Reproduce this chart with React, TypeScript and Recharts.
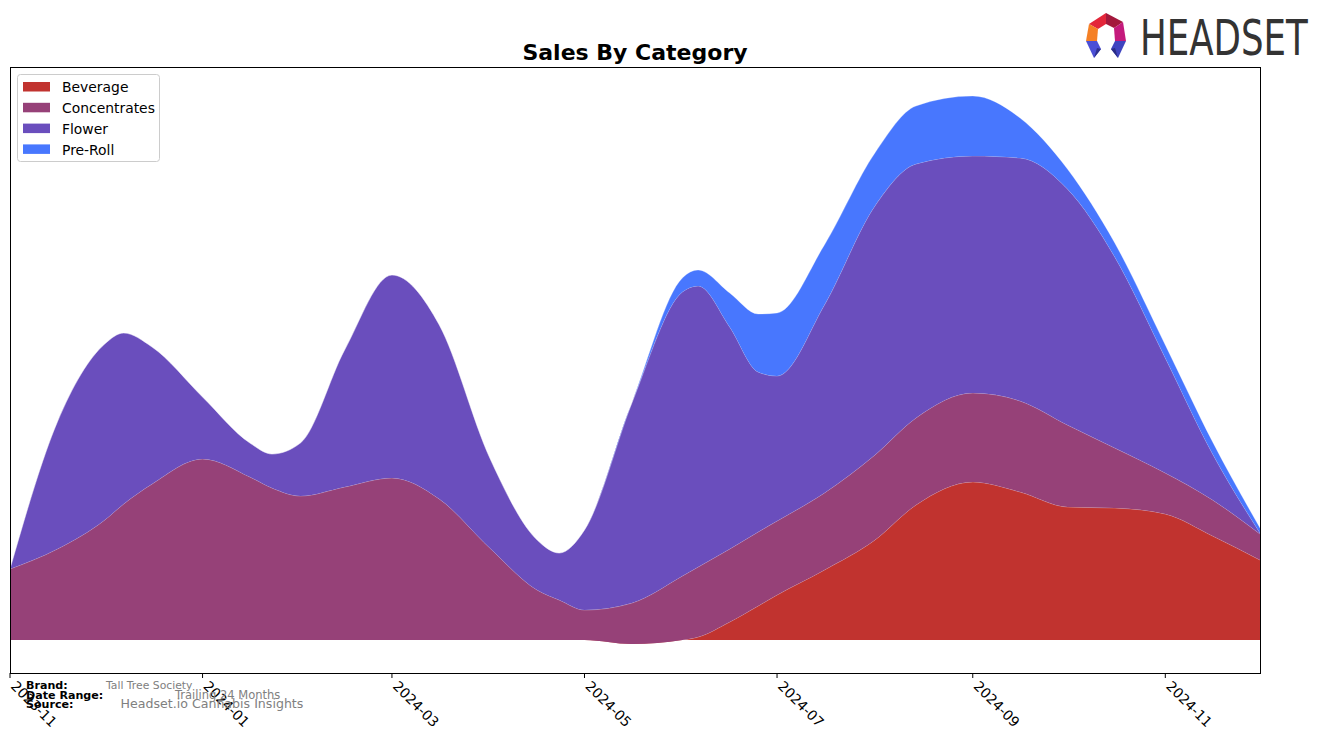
import React from 'react';
import { AreaChart, Area, XAxis, YAxis } from 'recharts';

const dates = [
  '2023-11-01', '2023-11-16', '2023-12-01', '2023-12-07', '2023-12-16',
  '2024-01-01', '2024-01-16', '2024-01-23', '2024-02-01', '2024-02-15',
  '2024-03-01', '2024-03-16', '2024-04-01', '2024-04-16', '2024-04-23',
  '2024-05-01', '2024-05-16', '2024-06-01', '2024-06-06', '2024-06-16',
  '2024-06-25', '2024-07-01', '2024-07-16', '2024-08-01', '2024-08-14',
  '2024-09-01', '2024-09-16', '2024-10-01', '2024-10-16', '2024-11-01',
  '2024-11-16', '2024-12-01',
];
const beverage = [0, 0, 0, 0, 0, 0, 0, 0, 0, 0, 0, 0, 0, 0, 0, 0, -4, 0, 3, 18, 34, 45, 70, 100, 135, 158, 148, 133, 132, 126, 104, 80];
const concentrates = [71, 91, 120, 136, 156, 181, 163, 152, 144, 153, 162, 141, 92, 50, 40, 30, 41, 64, 70, 73, 74, 74, 77, 85, 87, 89, 91, 82, 60, 41, 36, 26];
const flower = [0, 127, 176, 171, 137, 62, 34, 34, 53, 137, 203, 174, 90, 50, 47, 80, 200, 284, 281, 222, 160, 145, 188, 249, 254, 237, 243, 236, 191, 115, 46, 1];
const preRoll = [0, 0, 0, 0, 0, 0, 0, 0, 0, 0, 0, 0, 0, 0, 0, 0, 0, 14, 16, 34, 58, 63, 60, 53, 58, 60, 40, 20, 14, 13, 12, 5];

const tickLabels = ['2023-11', '2024-01', '2024-03', '2024-05', '2024-07', '2024-09', '2024-11'];
const categories = ['Beverage', 'Concentrates', 'Flower', 'Pre-Roll'];
const colors = ['#C1332F', '#964178', '#6A4EBD', '#4877FE'];

const DAY = 86400000;
const ORIGIN = Date.UTC(2023, 10, 1);
const toDay = (s: string) => {
  const [y, m, d] = s.split('-').map(Number);
  return Math.round((Date.UTC(y, m - 1, d || 1) - ORIGIN) / DAY);
};

const series = [beverage, concentrates, flower, preRoll];
const data = dates.map((d, i) => {
  const row: any = { t: toDay(d) };
  categories.forEach((c, k) => { row[c] = series[k][i]; });
  return row;
});
const ticks = tickLabels.map((l) => toDay(l + '-01'));
const endDay = toDay(dates[dates.length - 1]);

const FONT = "'DejaVu Sans', Verdana, sans-serif";

const Tick = (props: any) => {
  const { x, y, payload } = props;
  const idx = ticks.indexOf(payload.value);
  return (
    <g transform={`translate(${x},${y + 7}) rotate(45)`}>
      <text x={0} y={0} fontSize={13.9} fill="#000" textAnchor="start" fontFamily={FONT}>
        {tickLabels[idx]}
      </text>
    </g>
  );
};

const Logo = () => (
  <g>
    <polygon points="1089,24 1106,13 1106,24 1098,29" fill="#E3263A" />
    <polygon points="1106,13 1123,22 1114,28 1106,24" fill="#A3183C" />
    <polygon points="1089,24 1098,29 1097,41 1086,41" fill="#F58025" />
    <polygon points="1123,22 1126,41 1115,41 1114,28" fill="#C41A7C" />
    <polygon points="1086,41 1097,41 1101,49 1094,58" fill="#4B4FD6" />
    <polygon points="1094,58 1101,49 1097,48" fill="#2E318F" />
    <polygon points="1115,41 1126,41 1118,58 1111,49" fill="#3F44C0" />
    <polygon points="1118,58 1111,49 1115,48" fill="#2A2D85" />
    <g transform="translate(1140,55) scale(0.712,1)">
      <text x={0} y={0} fontSize={50} fill="#333333" fontFamily={FONT}>HEADSET</text>
    </g>
  </g>
);

export default function App() {
  return (
    <div style={{ position: 'absolute', left: 0, top: 0, width: 1324, height: 743, background: '#fff', fontFamily: FONT }}>
      <AreaChart width={1324} height={743} data={data} margin={{ top: 67, right: 64, bottom: 40, left: 10 }}>
        <XAxis
          dataKey="t"
          type="number"
          domain={[0, endDay]}
          ticks={ticks}
          interval={0}
          tick={<Tick />}
          tickSize={5}
          tickLine={{ stroke: '#000', strokeWidth: 1 }}
          axisLine={false}
          height={30}
          allowDataOverflow
        />
        <YAxis hide type="number" domain={[-33, 573]} allowDataOverflow />
        {categories.map((c, k) => (
          <Area
            key={c}
            type="monotone"
            dataKey={c}
            stackId="1"
            fill={colors[k]}
            fillOpacity={1}
            stroke="rgba(255,255,255,0.35)"
            strokeWidth={0.8}
            dot={false}
            activeDot={false}
            isAnimationActive={false}
          />
        ))}
      </AreaChart>
      <svg width={1324} height={743} style={{ position: 'absolute', left: 0, top: 0, pointerEvents: 'none' }}>
        <rect x={10.5} y={67.5} width={1250} height={606} fill="none" stroke="#000" strokeWidth={1} />
        <text x={635} y={60} textAnchor="middle" fontSize={22} fontWeight="bold" fontFamily={FONT} fill="#000">Sales By Category</text>
        <rect x={17.5} y={74.5} width={142} height={87} rx={3} fill="#fff" fillOpacity={0.8} stroke="#cccccc" />
        {categories.map((c, k) => (
          <g key={c}>
            <rect x={23} y={82 + k * 20.8} width={27} height={9.5} fill={colors[k]} />
            <text x={62} y={92.3 + k * 20.8} fontSize={13.9} fontFamily={FONT} fill="#000">{c}</text>
          </g>
        ))}
        <text x={26} y={689} fontSize={11.1} fontWeight="bold" fontFamily={FONT} fill="#000">Brand:</text>
        <text x={26} y={699} fontSize={11.1} fontWeight="bold" fontFamily={FONT} fill="#000">Date Range:</text>
        <text x={26} y={708} fontSize={11.1} fontWeight="bold" fontFamily={FONT} fill="#000">Source:</text>
        <text x={106} y={689} fontSize={10.8} fontFamily={FONT} fill="#808080">Tall Tree Society</text>
        <text x={175} y={698.5} fontSize={11.5} fontFamily={FONT} fill="#808080">Trailing 24 Months</text>
        <text x={120.5} y={707.5} fontSize={12.6} fontFamily={FONT} fill="#808080">Headset.io Cannabis Insights</text>
        <Logo />
      </svg>
    </div>
  );
}
